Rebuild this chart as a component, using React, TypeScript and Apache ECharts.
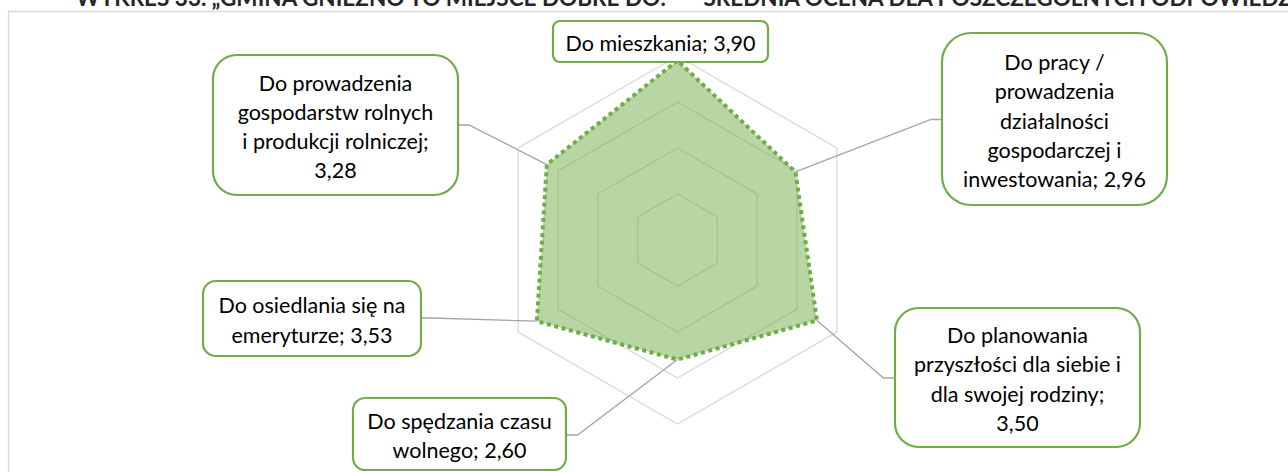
import React, { useEffect, useRef } from "react";
import * as echarts from "echarts";

// Categories in clockwise order starting from the top (as in the source chart)
const categories: string[] = [
  "Do mieszkania",
  "Do pracy /\nprowadzenia\ndziałalności\ngospodarczej i\ninwestowania",
  "Do planowania\nprzyszłości dla siebie i\ndla swojej rodziny",
  "Do spędzania czasu\nwolnego",
  "Do osiedlania się na\nemeryturze",
  "Do prowadzenia\ngospodarstw rolnych\ni produkcji rolniczej",
];
const values: number[] = [3.9, 2.96, 3.5, 2.6, 3.53, 3.28];
const axisMax = 4;
const splitCount = 4;
const valueSeparators: string[] = ["; ", "; ", ";\n", "; ", "; ", ";\n"];

const titleText =
  "WYKRES 33. „GMINA GNIEZNO TO MIEJSCE DOBRE DO:” — ŚREDNIA OCENA DLA POSZCZEGÓLNYCH ODPOWIEDZI";

// Layout of callout boxes: [x, y, w, h] and leader elbow/end points (layout only)
const boxLayout: { rect: number[]; leader: number[][] | null }[] = [
  { rect: [553, 21, 215, 41], leader: null },
  { rect: [942, 33, 225, 172], leader: [[931, 119.5], [942, 119.5]] },
  { rect: [895, 308, 245, 139], leader: [[883.5, 378], [895, 378]] },
  { rect: [353, 398, 213, 72], leader: [[577.5, 435], [566, 435]] },
  { rect: [203, 281, 218, 75], leader: [[431, 318], [421, 318]] },
  { rect: [213, 55, 245, 140], leader: [[469, 125], [458, 125]] },
];

const CENTER = [677.5, 240];
const RADIUS = 184;
const GREEN = "#70AD47";
const FONT = "Lato, 'Open Sans', sans-serif";

const fmt = (v: number) => v.toFixed(2).replace(".", ",");

export default function App() {
  const ref = useRef<HTMLDivElement>(null);
  useEffect(() => {
    if (!ref.current) return;
    const chart = echarts.init(ref.current, null, { renderer: "svg" });
    // ECharts radar places indicators counter-clockwise; reorder to clockwise layout
    const order = [0, 5, 4, 3, 2, 1];
    const indicator = order.map((i) => ({ name: categories[i], max: axisMax, min: 0 }));
    chart.setOption({
      animation: false,
      backgroundColor: "#ffffff",
      radar: {
        center: CENTER,
        radius: RADIUS,
        startAngle: 90,
        splitNumber: splitCount,
        indicator,
        shape: "polygon",
        axisName: { show: false },
        axisLine: { show: false },
        axisTick: { show: false },
        axisLabel: { show: false },
        splitArea: { show: false },
        splitLine: { lineStyle: { color: "#D9D9D9", width: 1.3 } },
      },
      series: [
        {
          type: "radar",
          symbol: "none",
          silent: true,
          data: [
            {
              value: order.map((i) => values[i]),
              lineStyle: { color: GREEN, width: 4, type: [4, 3.6] },
              areaStyle: { color: "rgba(112,173,71,0.5)", opacity: 1 },
            },
          ],
        },
      ],
    });

    let pts: number[][] = [];
    try {
      const cs = (chart as any).getModel().getComponent("radar").coordinateSystem;
      pts = values.map((v, i) => cs.dataToPoint(v, order.indexOf(i)));
    } catch (e) {
      pts = values.map((v, i) => {
        const a = (Math.PI / 2) - (i * 2 * Math.PI) / values.length;
        const r = (v / axisMax) * RADIUS;
        return [CENTER[0] + r * Math.cos(a), CENTER[1] - r * Math.sin(a)];
      });
    }

    const graphic: any[] = [
      {
        type: "rect",
        z: 50,
        shape: { x: 8.5, y: 11.5, width: 1400, height: 600 },
        style: { fill: "none", stroke: "#D9D9D9", lineWidth: 1.3 },
        silent: true,
      },
      {
        type: "text",
        z: 50,
        style: {
          text: titleText,
          x: 76,
          y: 9,
          verticalAlign: "bottom",
          font: `bold 22.5px ${FONT}`,
          fill: "#262626",
        },
        silent: true,
      },
    ];
    boxLayout.forEach((b, i) => {
      if (b.leader) {
        graphic.push({
          type: "polyline",
          z: 60,
          shape: { points: [pts[i], ...b.leader] },
          style: { stroke: "#A5A5A5", lineWidth: 1.3, fill: "none" },
          silent: true,
        });
      }
      const [x, y, w, h] = b.rect;
      graphic.push({
        type: "rect",
        z: 70,
        shape: { x, y, width: w, height: h, r: Math.min(w, h) * 0.17 },
        style: { fill: "#ffffff", stroke: GREEN, lineWidth: 2.2 },
        silent: true,
      });
      graphic.push({
        type: "text",
        z: 71,
        style: {
          text: categories[i] + valueSeparators[i] + fmt(values[i]),
          x: x + w / 2,
          y: y + h / 2 + 1.5,
          align: "center",
          verticalAlign: "middle",
          font: `21.5px ${FONT}`,
          lineHeight: 29.3,
          fill: "#000000",
        },
        silent: true,
      });
    });
    chart.setOption({ graphic });
    return () => chart.dispose();
  }, []);
  return (
    <div
      ref={ref}
      style={{ position: "absolute", left: 0, top: 0, width: 1288, height: 472, background: "#fff" }}
    />
  );
}
